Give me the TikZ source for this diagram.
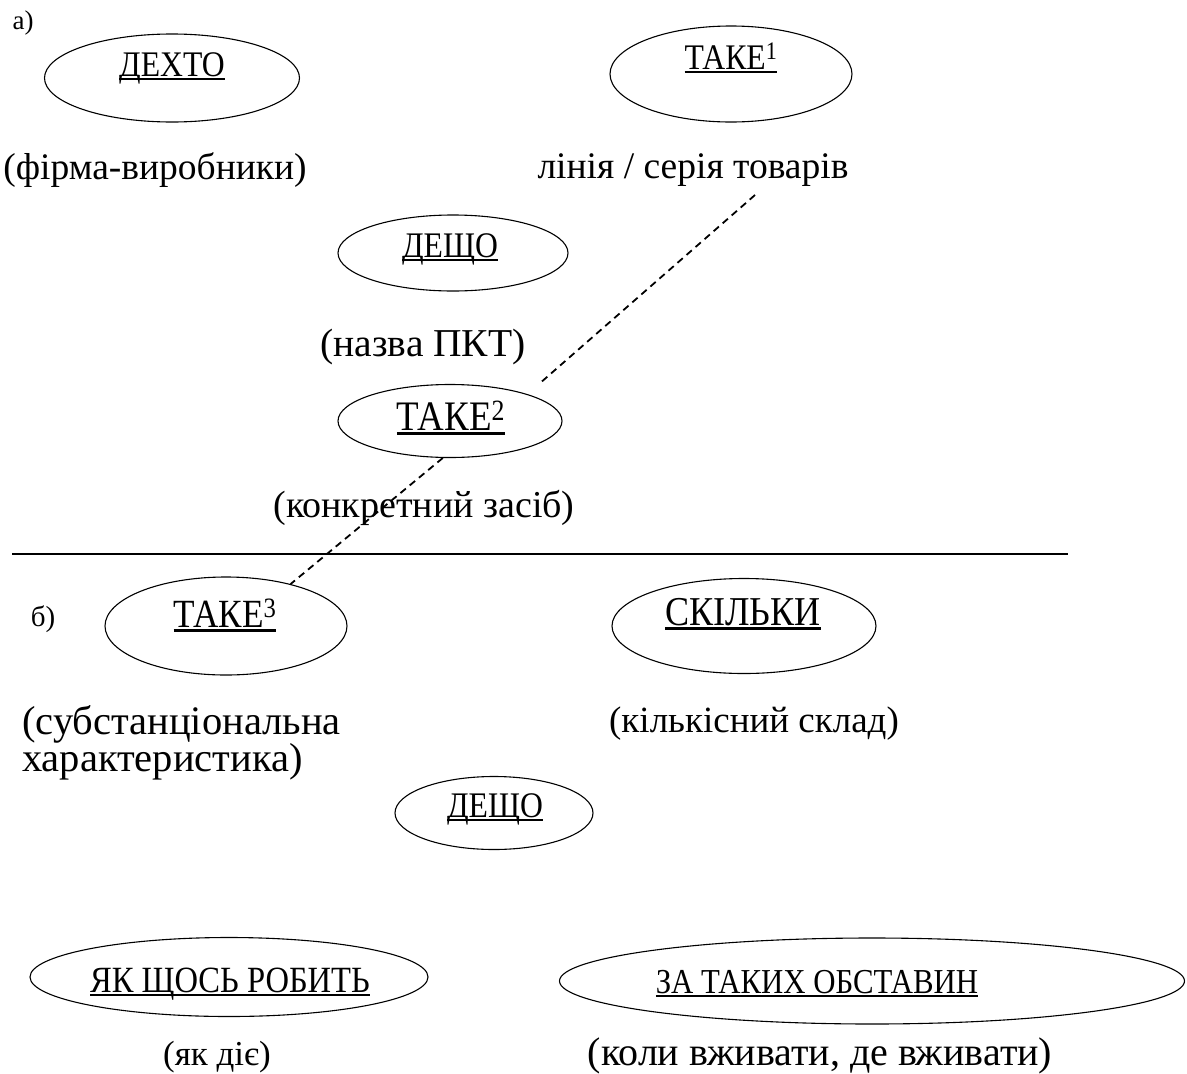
\documentclass[tikz,border=0pt]{standalone}
\usepackage{fontspec}
\setmainfont{Liberation Serif}
\newfontfamily\narrowfont{Liberation Serif}[FakeStretch=0.88]
\usetikzlibrary{shapes.geometric}

\newsavebox\ulbox
\newcommand{\undl}[1]{\sbox\ulbox{#1}\rlap{\rule[-0.12em]{\wd\ulbox}{0.075em}}\usebox\ulbox}

\tikzset{
  oval/.style={draw, ellipse, line width=1.1pt, inner sep=0pt},
  word/.style={inner sep=0pt, anchor=base, font=\narrowfont\fontsize{#1}{#1}\selectfont},
  note/.style={inner sep=0pt, anchor=base, font=\fontsize{#1}{37}\selectfont},
  tag/.style={inner sep=0pt, anchor=base, font=\fontsize{#1}{#1}\selectfont},
  link/.style={dash pattern=on 7pt off 5pt, line width=1.8pt}
}

\begin{document}
\begin{tikzpicture}[x=1pt, y=-1pt]
\useasboundingbox (0,0) rectangle (1187,1074);

% part a)
\node[tag=27] (taga) at (23,29) {а)};
\node[oval, minimum width=255pt, minimum height=88pt] (dekhto) at (172,78) {};
\node[word=36] (dekhtoword) at (172,76) {\undl{ДЕХТО}};
\node[note=37.5] (firma) at (155,179) {(фірма-виробники)};

\node[oval, minimum width=242pt, minimum height=96pt] (take1) at (731,74) {};
\node[word=36] (take1word) at (731,69) {\undl{ТАКЕ\textsuperscript{1}}};
\node[note=37.5] (liniia) at (693,178) {лінія / серія товарів};

\node[oval, minimum width=230pt, minimum height=76pt] (deshcho1) at (453,253) {};
\node[word=36] (deshcho1word) at (450,257) {\undl{ДЕЩО}};
\node[note=39.5] (nazva) at (423,356) {(назва ПКТ)};

\node[oval, minimum width=224pt, minimum height=73pt] (take2) at (450,421) {};
\node[word=42] (take2word) at (451,430) {\undl{ТАКЕ\textsuperscript{2}}};
\node[note=38] (zasib) at (424,517) {(конкретний засіб)};

% divider
\coordinate (ruleL) at (12,554);
\coordinate (ruleR) at (1068,554);
\draw[line width=1.2pt] (ruleL) -- (ruleR);

% part b)
\node[tag=29] (tagb) at (43,626) {б)};
\node[oval, minimum width=242pt, minimum height=98pt] (take3) at (226,626) {};
\node[word=40] (take3word) at (225,627) {\undl{ТАКЕ\textsuperscript{3}}};
\node[note=40.5, anchor=base west, align=left] (subst) at (22,771)
  {(субстанціональна\\характеристика)};

\node[oval, minimum width=264pt, minimum height=95pt] (skilky) at (744,626) {};
\node[word=41] (skilkyword) at (743,625) {\undl{СКІЛЬКИ}};
\node[note=37] (sklad) at (754,732) {(кількісний склад)};

\node[oval, minimum width=198pt, minimum height=73pt] (deshcho2) at (494,813) {};
\node[word=36] (deshcho2word) at (495,817) {\undl{ДЕЩО}};

\node[oval, minimum width=398pt, minimum height=79pt] (yak) at (229,977) {};
\node[word=37] (yakword) at (230,992) {\undl{ЯК ЩОСЬ РОБИТЬ}};
\node[note=35] (diie) at (217,1065) {(як діє)};

\node[oval, minimum width=625pt, minimum height=86pt] (obst) at (872,981) {};
\node[word=35] (obstword) at (817,993) {\undl{ЗА ТАКИХ ОБСТАВИН}};
\node[note=40] (vzhyv) at (820,1065) {(коли вживати, де вживати)};

% dashed link
\coordinate (linkA) at (755,195);
\coordinate (linkB) at (539,384);
\draw[link] (linkA) -- (linkB);
\draw[link] (take2.259) -- (take3.33);
\end{tikzpicture}
\end{document}
